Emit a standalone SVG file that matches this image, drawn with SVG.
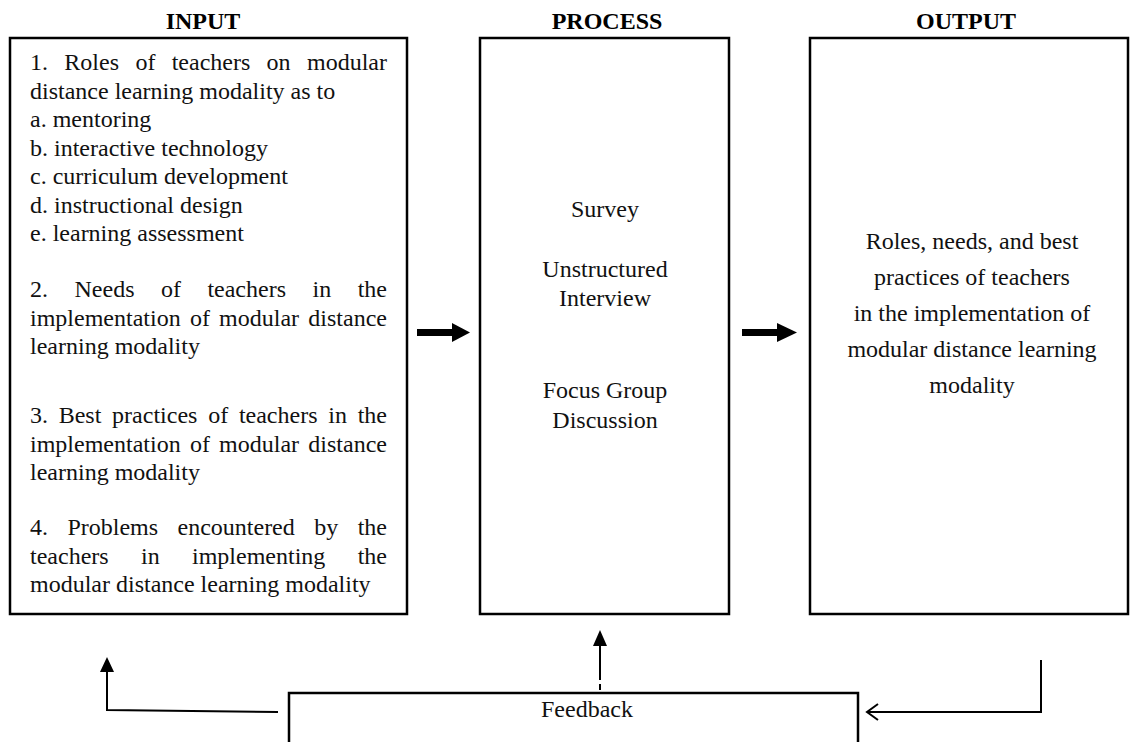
<svg xmlns="http://www.w3.org/2000/svg" width="1131" height="742" viewBox="0 0 1131 742">
<style>
  .box { fill: #fff; stroke: #000; stroke-width: 2.5; }
  .t { font-family: "Liberation Serif", "Times New Roman", serif; font-size: 24px; fill: #111; }
  .title { font-family: "Liberation Serif", "Times New Roman", serif; font-size: 24px; font-weight: bold; fill: #000; text-anchor: middle; }
  .c { text-anchor: middle; }
  .ln { fill: none; stroke: #000; stroke-width: 2; }
  .head { fill: #000; stroke: none; }
</style>
<rect width="1131" height="742" fill="#fff"/>

<g id="input">
  <text class="title" x="203" y="29">INPUT</text>
  <rect class="box" x="10" y="38" width="397" height="576"/>
  <text class="t" y="70"><tspan x="30">1.</tspan><tspan x="64.3">Roles</tspan><tspan x="135.4">of</tspan><tspan x="171.7">teachers</tspan><tspan x="266.6">on</tspan><tspan x="387" text-anchor="end">modular</tspan></text>
  <text class="t" x="30" y="98.5">distance learning modality as to</text>
  <text class="t" x="30" y="127">a. mentoring</text>
  <text class="t" x="30" y="155.5">b. interactive technology</text>
  <text class="t" x="30" y="184">c. curriculum development</text>
  <text class="t" x="30" y="212.5">d. instructional design</text>
  <text class="t" x="30" y="241">e. learning assessment</text>
  <text class="t" y="297"><tspan x="30">2.</tspan><tspan x="74.5">Needs</tspan><tspan x="160.9">of</tspan><tspan x="207.4">teachers</tspan><tspan x="312.5">in</tspan><tspan x="387" text-anchor="end">the</tspan></text>
  <text class="t" y="325.5"><tspan x="30">implementation</tspan><tspan x="189.9">of</tspan><tspan x="219.1">modular</tspan><tspan x="387" text-anchor="end">distance</tspan></text>
  <text class="t" x="30" y="354">learning modality</text>
  <text class="t" y="423"><tspan x="30">3.</tspan><tspan x="58.7">Best</tspan><tspan x="112.1">practices</tspan><tspan x="208.2">of</tspan><tspan x="238.9">teachers</tspan><tspan x="328.3">in</tspan><tspan x="387" text-anchor="end">the</tspan></text>
  <text class="t" y="451.5"><tspan x="30">implementation</tspan><tspan x="189.9">of</tspan><tspan x="219.1">modular</tspan><tspan x="387" text-anchor="end">distance</tspan></text>
  <text class="t" x="30" y="480">learning modality</text>
  <text class="t" y="535"><tspan x="30">4.</tspan><tspan x="67.4">Problems</tspan><tspan x="177.5">encountered</tspan><tspan x="314.3">by</tspan><tspan x="387" text-anchor="end">the</tspan></text>
  <text class="t" y="563.5"><tspan x="30">teachers</tspan><tspan x="141">in</tspan><tspan x="192">implementing</tspan><tspan x="387" text-anchor="end">the</tspan></text>
  <text class="t" x="30" y="592">modular distance learning modality</text>
</g>

<g id="process">
  <text class="title" x="607" y="29">PROCESS</text>
  <rect class="box" x="480" y="38" width="249" height="576"/>
  <text class="t c" x="605" y="217">Survey</text>
  <text class="t c" x="605" y="277">Unstructured</text>
  <text class="t c" x="605" y="306">Interview</text>
  <text class="t c" x="605" y="398">Focus Group</text>
  <text class="t c" x="605" y="428">Discussion</text>
</g>

<g id="output">
  <text class="title" x="966" y="29">OUTPUT</text>
  <rect class="box" x="810" y="38" width="318" height="576"/>
  <text class="t c" x="972" y="249">Roles, needs, and best</text>
  <text class="t c" x="972" y="285">practices of teachers</text>
  <text class="t c" x="972" y="321">in the implementation of</text>
  <text class="t c" x="972" y="357">modular distance learning</text>
  <text class="t c" x="972" y="393">modality</text>
</g>

<g id="feedback">
  <rect class="box" x="289" y="693" width="569" height="70"/>
  <text class="t c" x="587" y="717">Feedback</text>
</g>

<g id="connectors">
  <rect class="head" x="417" y="329" width="37" height="7"/>
  <polygon class="head" points="452,323 470,332.5 452,342"/>
  <rect class="head" x="742" y="329" width="37" height="7"/>
  <polygon class="head" points="777,323 797,332.5 777,342"/>
  <polyline class="ln" points="278,712 107,710 107,670"/>
  <polygon class="head" points="107,657 100,672 114,672"/>
  <line class="ln" x1="600" y1="645" x2="600" y2="680"/>
  <line class="ln" x1="600" y1="684" x2="600" y2="690"/>
  <polygon class="head" points="600,630 593,646 607,646"/>
  <polyline class="ln" points="1041,660 1041,712 867,712"/>
  <polyline class="ln" points="878,704 867,712 878,720"/>
</g>
</svg>
